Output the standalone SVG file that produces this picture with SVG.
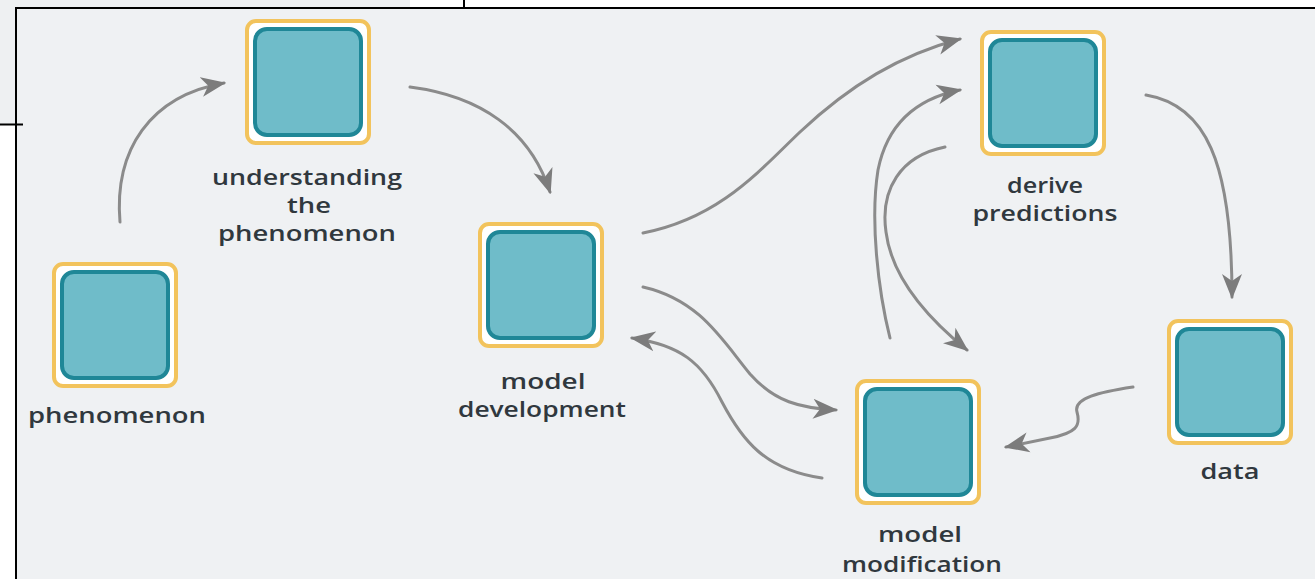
<svg xmlns="http://www.w3.org/2000/svg" width="1315" height="579" viewBox="0 0 1315 579">
  <style>
    .frame { stroke: #000; stroke-width: 2; fill: none; }
    .halo { fill: #ffffff; stroke: #f2c35c; stroke-width: 4; }
    .core { fill: #6fbcc9; stroke: #1f8797; stroke-width: 4; }
    .label { font-family: "Open Sans", "Liberation Sans", sans-serif; font-weight: 600; font-size: 22px; fill: #30383e; text-anchor: middle; }
    .link { fill: none; stroke: #8b8b8b; stroke-width: 3; stroke-linecap: round; marker-end: url(#head); }
  </style>
  <defs>
    <marker id="head" markerUnits="userSpaceOnUse" markerWidth="26" markerHeight="22" viewBox="0 0 26 22" refX="23" refY="11" orient="auto">
      <path d="M0,1 L25,11 L0,21 L7,11 Z" fill="#7c7c7c"/>
    </marker>
  </defs>

  <!-- page backdrop -->
  <rect x="0" y="0" width="1315" height="579" fill="#ffffff"/>
  <rect x="0" y="0" width="410" height="124" fill="#eef0f2"/>
  <rect x="16" y="8" width="1299" height="571" fill="#eff1f3"/>
  <g id="frame">
    <path class="frame" d="M16,579 V8 H1315"/>
    <path class="frame" d="M464,0 V8"/>
    <path class="frame" d="M0,124.5 H23"/>
  </g>

  <g id="connectors">
    <path class="link" d="M120,222 C114,150 150,96 224,83"/>
    <path class="link" d="M410,87 C480,96 530,130 550,192"/>
    <path class="link" d="M643,233 C720,218 760,170 800,132 C850,85 900,55 960,39"/>
    <path class="link" d="M890,338 C878,290 870,220 878,170 C888,120 920,98 960,90"/>
    <path class="link" d="M945,147 C900,156 880,190 886,232 C892,280 930,320 967,350"/>
    <path class="link" d="M643,287 C700,300 722,340 750,374 C775,402 800,408 836,410"/>
    <path class="link" d="M822,478 C765,470 742,440 722,402 C702,362 680,345 632,338"/>
    <path class="link" d="M1146,95 C1205,105 1232,160 1232,297"/>
    <path class="link" d="M1133,387 C1100,392 1073,398 1077,412 C1081,426 1076,433 1050,438 L1006,447"/>
  </g>

  <g id="phenomenon">
    <rect class="halo" x="54" y="264" width="122" height="122" rx="9"/>
    <rect class="core" x="62" y="272" width="106" height="106" rx="12"/>
    <text class="label" x="117" y="423" textLength="178" lengthAdjust="spacingAndGlyphs">phenomenon</text>
  </g>

  <g id="understanding">
    <rect class="halo" x="247" y="21" width="122" height="122" rx="9"/>
    <rect class="core" x="255" y="29" width="106" height="106" rx="12"/>
    <text class="label" x="307" y="185" textLength="190" lengthAdjust="spacingAndGlyphs">understanding</text>
    <text class="label" x="309" y="213" textLength="44" lengthAdjust="spacingAndGlyphs">the</text>
    <text class="label" x="307" y="241" textLength="178" lengthAdjust="spacingAndGlyphs">phenomenon</text>
  </g>

  <g id="model-development">
    <rect class="halo" x="480" y="224" width="122" height="122" rx="9"/>
    <rect class="core" x="488" y="232" width="106" height="106" rx="12"/>
    <text class="label" x="543" y="389" textLength="85" lengthAdjust="spacingAndGlyphs">model</text>
    <text class="label" x="542" y="417" textLength="168" lengthAdjust="spacingAndGlyphs">development</text>
  </g>

  <g id="derive-predictions">
    <rect class="halo" x="982" y="32" width="122" height="122" rx="9"/>
    <rect class="core" x="990" y="40" width="106" height="106" rx="12"/>
    <text class="label" x="1045" y="193" textLength="76" lengthAdjust="spacingAndGlyphs">derive</text>
    <text class="label" x="1045" y="221" textLength="145" lengthAdjust="spacingAndGlyphs">predictions</text>
  </g>

  <g id="data">
    <rect class="halo" x="1169" y="321" width="122" height="122" rx="9"/>
    <rect class="core" x="1177" y="329" width="106" height="106" rx="12"/>
    <text class="label" x="1230" y="479" textLength="59" lengthAdjust="spacingAndGlyphs">data</text>
  </g>

  <g id="model-modification">
    <rect class="halo" x="857" y="381" width="122" height="122" rx="9"/>
    <rect class="core" x="865" y="389" width="106" height="106" rx="12"/>
    <text class="label" x="920" y="542" textLength="84" lengthAdjust="spacingAndGlyphs">model</text>
    <text class="label" x="922" y="572" textLength="160" lengthAdjust="spacingAndGlyphs">modification</text>
  </g>
</svg>
